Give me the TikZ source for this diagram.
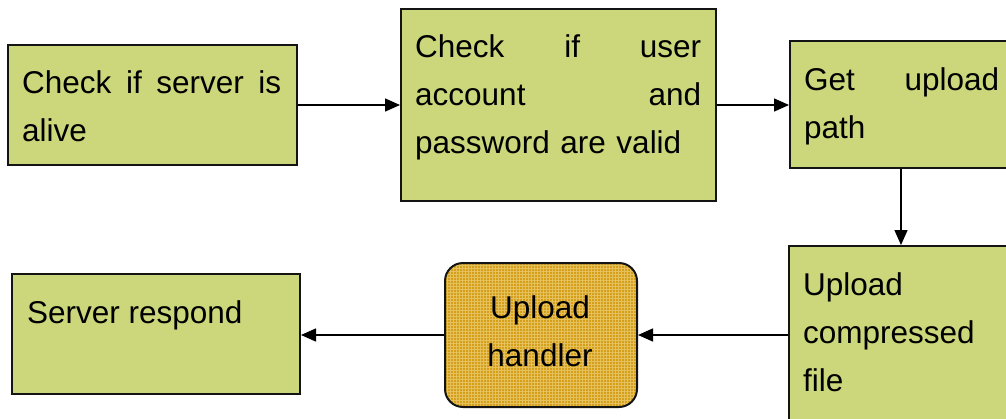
\documentclass[tikz,border=0pt]{standalone}
\usepackage{fontspec}
\setmainfont{Liberation Sans}
\usetikzlibrary{arrows.meta,patterns}
\definecolor{boxgreen}{RGB}{204,214,122}
\definecolor{gold}{RGB}{212,160,28}
\definecolor{goldgrid}{RGB}{230,192,90}
\definecolor{edge}{RGB}{20,20,20}
\tikzset{
  box/.style={draw=edge, line width=2pt, fill=boxgreen, inner sep=0pt, anchor=north west},
  goldbox/.style={draw=edge, line width=2pt, rounded corners=18pt, preaction={fill=gold}, pattern=grid, pattern color=goldgrid, inner sep=0pt, anchor=north west},
  txt/.style={anchor=base west, inner sep=0pt, align=left, font=\fontsize{31.5}{48}\selectfont},
  arr/.style={line width=1.5pt, draw=black, -{Triangle[length=15pt,width=13pt]}}
}
\begin{document}
\begin{tikzpicture}[x=1pt,y=-1pt]
\useasboundingbox (0,0) rectangle (1006,418);
% boxes
\node[box, minimum width=289pt, minimum height=120pt] (b1) at (7,44) {};
\node[box, minimum width=315pt, minimum height=192pt] (b2) at (400,8) {};
\node[box, minimum width=225pt, minimum height=127pt] (b3) at (789,40) {};
\node[box, minimum width=225pt, minimum height=180pt] (b4) at (788,245) {};
\node[goldbox, minimum width=192pt, minimum height=144pt] (b5) at (444,262) {};
\node[box, minimum width=288pt, minimum height=120pt] (b6) at (11,273) {};
% texts
\node[txt, text width=259pt] (t1) at (22,93) {Check\hfill if\hfill server\hfill is\\alive};
\node[txt, text width=286pt] (t2) at (415,57) {Check\hfill if\hfill user\\account\hfill and\\password are valid};
\node[txt, text width=195pt] (t3) at (804,90) {Get\hfill upload\\path};
\node[txt, text width=200pt] (t4) at (803,295) {Upload\\compressed\\file};
\node[txt, anchor=base, text width=180pt, align=center] (t5) at (540,318) {Upload\\handler};
\node[txt] (t6) at (27,323) {Server respond};
% connectors
\coordinate (xd) at (901,0);
\draw[arr] (b1.east) -- (b2.west);
\draw[arr] (b2.east) -- (b3.west |- b2.east);
\draw[arr] (b3.south -| xd) -- (b4.north -| xd);
\draw[arr] (b4.west |- b5.east) -- (b5.east);
\draw[arr] (b5.west) -- (b6.east |- b5.west);
\end{tikzpicture}
\end{document}
